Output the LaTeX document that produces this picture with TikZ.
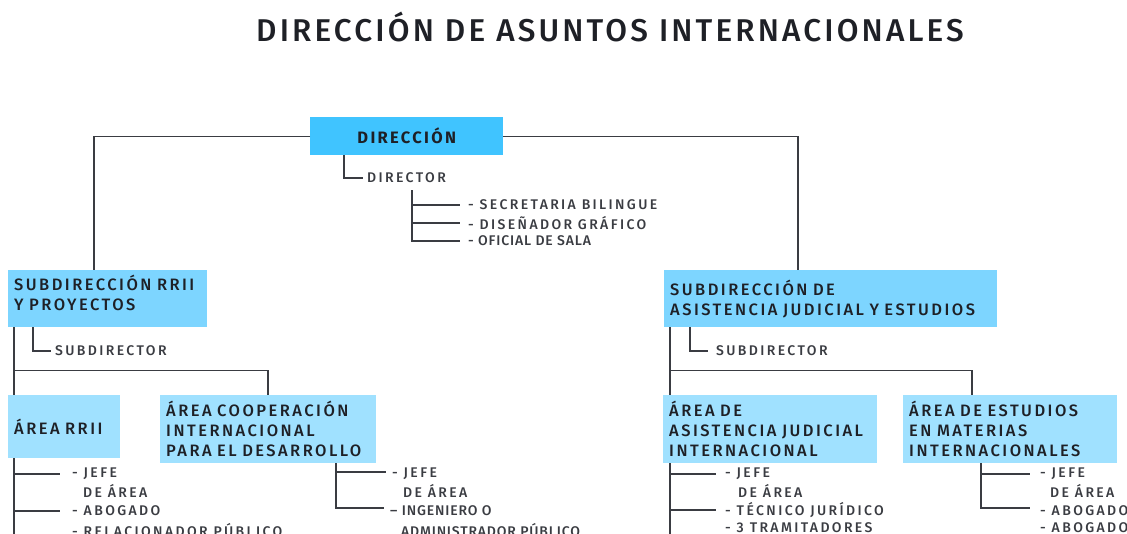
\documentclass[tikz,border=0pt]{standalone}
\usepackage{fontspec}
\setmainfont{Fira Sans}[UprightFont={* Medium}, BoldFont={* Bold}, LetterSpace=10]
\usetikzlibrary{calc}
\definecolor{azul1}{RGB}{64,196,255}
\definecolor{azul2}{RGB}{125,213,255}
\definecolor{azul3}{RGB}{160,225,255}
\definecolor{tinta}{RGB}{30,32,38}
\definecolor{gris}{RGB}{58,60,66}

\begin{document}
\begin{tikzpicture}[x=1pt,y=-1pt,
  caja/.style={anchor=north west, inner sep=6, text=tinta, align=left, font=\fontsize{16.5}{20}\selectfont\addfontfeature{LetterSpace=15}},
  item/.style={anchor=west, inner sep=0, text=gris, font=\fontsize{14}{17}\selectfont\addfontfeature{LetterSpace=17}},
  angosto/.style={font=\fontsize{14}{17}\selectfont\addfontfeature{LetterSpace=6}},
  linea/.style={draw=gris, line width=1.3}]
\useasboundingbox (0,0) rectangle (1127,533);
\node[text=tinta, font=\fontsize{31.5}{36}\selectfont] (titulo) at (610,27) {DIRECCIÓN DE ASUNTOS INTERNACIONALES};

% direccion
\node[caja, fill=azul1, minimum width=193, minimum height=38, font=\bfseries\fontsize{16.5}{20}\selectfont\addfontfeature{LetterSpace=14}] (dir) at (310,117) {DIRECCIÓN};
\node[item] (director) at (367,178) {DIRECTOR};
\draw[linea] ($(dir.south west)+(34,0)$) |- ([xshift=-4]director.west);
\coordinate (stf) at (412,190);
\foreach \txt/\est [count=\i] in {SECRETARIA BILINGUE/item, DISEÑADOR GRÁFICO/item, OFICIAL DE SALA/angosto} {
 \node[item, \est] (s\i) at (468,187+18*\i) {- \txt};
 \draw[linea] (stf) |- ([xshift=-8]s\i.west);
}

% subdirecciones
\node[caja, fill=azul2, text width=187, minimum height=57, text height=3] (subA) at (8,270) {SUBDIRECCIÓN RRII\\Y PROYECTOS};
\node[caja, fill=azul2, text width=321, minimum height=57] (subB) at (664,270) {SUBDIRECCIÓN DE\\ASISTENCIA JUDICIAL Y ESTUDIOS};
\draw[linea] (dir.west) -| ($(subA.north west)+(86,0)$);
\draw[linea] (dir.east) -| ($(subB.north west)+(134,0)$);
\node[item] (sdA) at (55,351) {SUBDIRECTOR};
\node[item] (sdB) at (716,351) {SUBDIRECTOR};
\draw[linea] ($(subA.south west)+(25,0)$) |- ([xshift=-4]sdA.west);
\draw[linea] ($(subB.south west)+(26,0)$) |- ([xshift=-8]sdB.west);

% areas
\node[caja, fill=azul3, text width=100, minimum height=63] (rrii) at (8,395) {ÁREA RRII};
\node[caja, fill=azul3, text width=204, minimum height=63] (coop) at (160,395) {ÁREA COOPERACIÓN\\INTERNACIONAL\\PARA EL DESARROLLO};
\node[caja, fill=azul3, text width=202, minimum height=63] (asis) at (663,395) {ÁREA DE\\ASISTENCIA JUDICIAL\\INTERNACIONAL};
\node[caja, fill=azul3, text width=202, minimum height=63] (estu) at (903,395) {ÁREA DE ESTUDIOS\\EN MATERIAS\\INTERNACIONALES};
\draw[linea] ($(subA.south west)+(6,0)$) -- ($(rrii.north west)+(6,0)$);
\draw[linea] ($(subA.south west)+(6,43)$) -| ($(coop.north west)+(108,0)$);
\draw[linea] ($(subB.south west)+(6,0)$) -- ($(asis.north west)+(7,0)$);
\draw[linea] ($(subB.south west)+(6,43)$) -| ($(estu.north west)+(69,0)$);

% cargos
\node[item] (jA) at (72,474) {- JEFE};
\node[item] (jA2) at (83,491) {DE ÁREA};
\node[item] (aA) at (72,511) {- ABOGADO};
\node[item] (rA) at (72,530) {- RELACIONADOR PÚBLICO};
\coordinate (finA) at (14,540);
\draw[linea] ($(rrii.south west)+(6,0)$) -- (finA);
\foreach \n in {jA,aA} \draw[linea] (finA |- \n.west) -- ([xshift=-12]\n.west);

\node[item] (jB) at (392,474) {- JEFE};
\node[item] (jB2) at (403,491) {DE ÁREA};
\node[item, angosto] (iB) at (390,511) {– INGENIERO O};
\node[item, angosto] (iB2) at (401,530) {ADMINISTRADOR PÚBLICO};
\draw[linea] ($(coop.south west)+(176,0)$) |- ([xshift=-6,yshift=2]jB.west);
\draw[linea] ($(coop.south west)+(176,0)$) |- ([xshift=-6,yshift=3]iB.west);

\node[item] (jC) at (725,474) {- JEFE};
\node[item] (jC2) at (738,491) {DE ÁREA};
\node[item] (tC) at (725,510) {- TÉCNICO JURÍDICO};
\node[item] (tC2) at (725,528) {- 3 TRAMITADORES};
\coordinate (finC) at (670,540);
\draw[linea] ($(asis.south west)+(7,0)$) -- (finC);
\foreach \n in {jC,tC} \draw[linea] (finC |- \n.west) -- ([xshift=-9]\n.west);

\node[item] (jD) at (1040,474) {- JEFE};
\node[item] (jD2) at (1050,491) {DE ÁREA};
\node[item] (aD) at (1040,511) {- ABOGADO};
\node[item] (aD2) at (1040,528) {- ABOGADO};
\draw[linea] ($(estu.south west)+(78,0)$) |- ([xshift=-10]jD.west);
\draw[linea] ($(estu.south west)+(78,0)$) |- ([xshift=-10,yshift=3]aD.west);
\end{tikzpicture}
\end{document}
